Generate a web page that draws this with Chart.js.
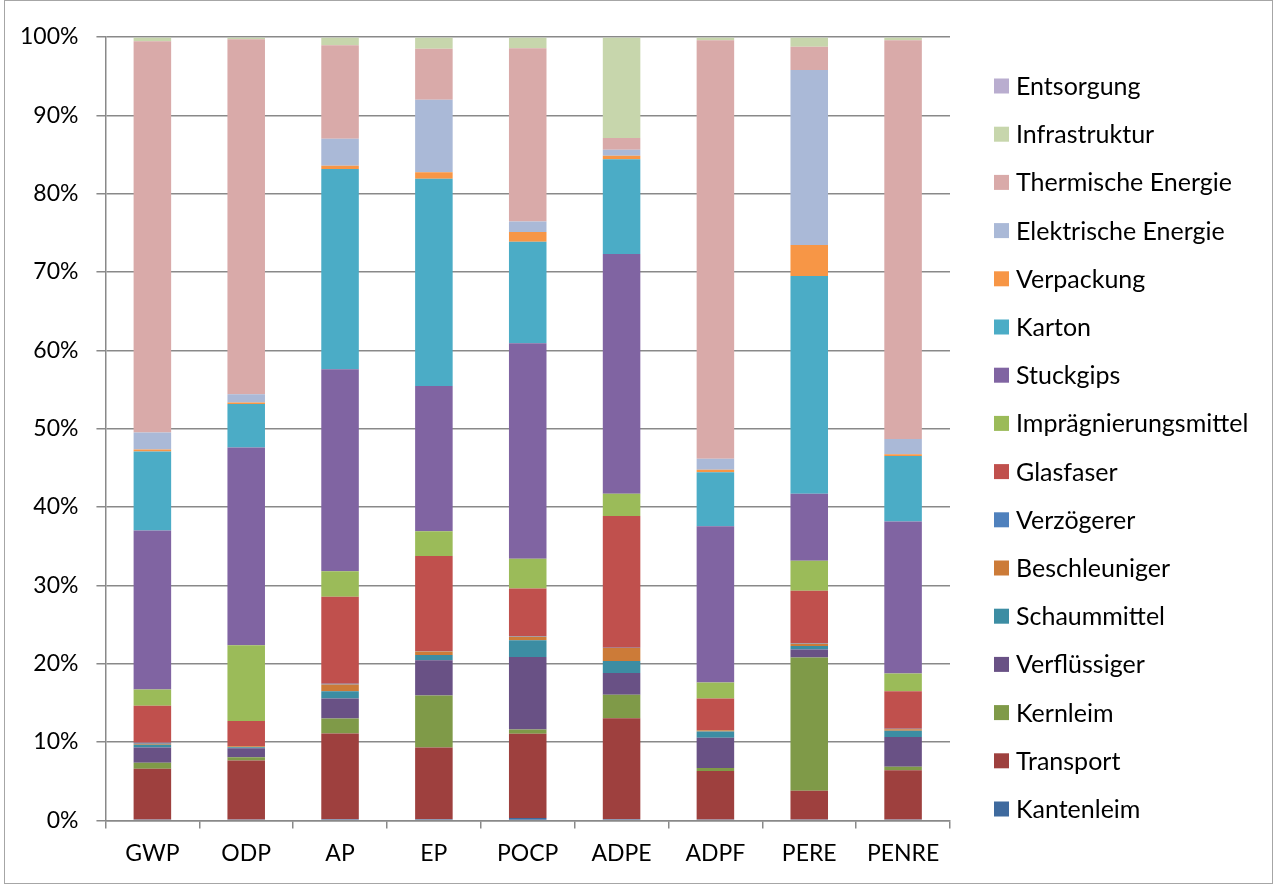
<!DOCTYPE html>
<html lang="de">
<head>
<meta charset="utf-8">
<title>Wirkungskategorien - Anteile</title>
<script src="https://cdn.jsdelivr.net/npm/chart.js@4.4.0/dist/chart.umd.min.js"></script>
<style>
    html, body { margin: 0; padding: 0; background: #ffffff; }
    #anteileChart { display: block; }
</style>
</head>
<body>
<canvas id="anteileChart" width="1277" height="886"></canvas>
<script>
// Kategorien (Wirkungsindikatoren)
const categories = ['GWP', 'ODP', 'AP', 'EP', 'POCP', 'ADPE', 'ADPF', 'PERE', 'PENRE'];

// Anteile in % je Modul (von unten nach oben gestapelt)
const kantenleim     = [0.1, 0.1, 0.15, 0.15, 0.3, 0.15, 0.1, 0.1, 0.1];
const transport      = [6.5, 7.55, 10.95, 9.15, 10.75, 12.9, 6.2, 3.7, 6.3];
const kernleim       = [0.75, 0.4, 1.9, 6.65, 0.55, 3.0, 0.4, 17.0, 0.45];
const verfluessiger  = [1.95, 1.15, 2.55, 4.5, 9.25, 2.75, 3.85, 1.0, 3.8];
const schaummittel   = [0.35, 0.15, 0.95, 0.65, 2.15, 1.55, 0.8, 0.45, 0.8];
const beschleuniger  = [0.15, 0.1, 0.85, 0.45, 0.45, 1.65, 0.15, 0.3, 0.2];
const verzoegerer    = [0.1, 0.0, 0.1, 0.05, 0.05, 0.05, 0.05, 0.05, 0.05];
const glasfaser      = [4.75, 3.25, 11.1, 12.15, 6.1, 16.8, 4.0, 6.7, 4.8];
const impraegnierung = [2.05, 9.65, 3.25, 3.15, 3.8, 2.85, 2.05, 3.85, 2.25];
const stuckgips      = [20.3, 25.25, 25.8, 18.55, 27.5, 30.6, 19.95, 8.55, 19.4];
const karton         = [10.1, 5.55, 25.55, 26.45, 12.95, 12.1, 6.9, 27.8, 8.35];
const verpackung     = [0.25, 0.2, 0.4, 0.85, 1.25, 0.45, 0.3, 3.95, 0.25];
const elektrisch     = [2.15, 1.05, 3.45, 9.25, 1.35, 0.75, 1.4, 22.35, 1.95];
const thermisch      = [49.95, 45.3, 11.95, 6.5, 22.1, 1.5, 53.45, 2.95, 50.9];
const infrastruktur  = [0.5, 0.25, 1.0, 1.45, 1.4, 12.85, 0.35, 1.2, 0.35];
const entsorgung     = [0.05, 0.05, 0.05, 0.05, 0.05, 0.05, 0.05, 0.05, 0.05];

// Y-Achse: Prozent-Ticks
const yTicks = [0, 10, 20, 30, 40, 50, 60, 70, 80, 90, 100];

const FONT = 'Lato, "Open Sans", sans-serif';
const GRID_COLOR = '#898989';

document.addEventListener('DOMContentLoaded', function() {
    initAnteileChart();
});

/**
 * Legende rechts, in umgekehrter Reihenfolge (oberstes Segment zuerst)
 */
const sideLegend = {
    id: 'sideLegend',
    afterDraw(chart) {
        const ctx = chart.ctx;
        const sets = chart.data.datasets;
        ctx.save();
        ctx.font = '25px ' + FONT;
        ctx.textBaseline = 'middle';
        ctx.textAlign = 'left';
        for (let k = 0; k < sets.length; k++) {
            const ds = sets[sets.length - 1 - k];
            const y = 86 + k * 48.2;
            ctx.fillStyle = ds.backgroundColor;
            ctx.fillRect(994, y - 7.5, 15, 15);
            ctx.fillStyle = '#000000';
            ctx.fillText(ds.label, 1016, y + 1);
        }
        // Rahmen um das Diagramm
        ctx.strokeStyle = '#a6a6a6';
        ctx.lineWidth = 1;
        ctx.strokeRect(4.5, 0.5, 1268, 883);
        ctx.restore();
    }
};

function makeSet(label, data, color) {
    return {
        label: label,
        data: data,
        backgroundColor: color,
        borderWidth: 0,
        categoryPercentage: 1.0,
        barPercentage: 0.4
    };
}

function initAnteileChart() {
    const ctx = document.getElementById('anteileChart').getContext('2d');

    const datasets = [
        makeSet('Kantenleim', kantenleim, '#3F6A9E'),
        makeSet('Transport', transport, '#9E403E'),
        makeSet('Kernleim', kernleim, '#7F9A48'),
        makeSet('Verflüssiger', verfluessiger, '#695185'),
        makeSet('Schaummittel', schaummittel, '#3C8DA3'),
        makeSet('Beschleuniger', beschleuniger, '#CC7B38'),
        makeSet('Verzögerer', verzoegerer, '#4F81BD'),
        makeSet('Glasfaser', glasfaser, '#C0504D'),
        makeSet('Imprägnierungsmittel', impraegnierung, '#9BBB59'),
        makeSet('Stuckgips', stuckgips, '#8064A2'),
        makeSet('Karton', karton, '#4BACC6'),
        makeSet('Verpackung', verpackung, '#F79646'),
        makeSet('Elektrische Energie', elektrisch, '#AAB9D7'),
        makeSet('Thermische Energie', thermisch, '#D9AAA9'),
        makeSet('Infrastruktur', infrastruktur, '#C7D6AC'),
        makeSet('Entsorgung', entsorgung, '#B9ADCF')
    ];

    new Chart(ctx, {
        type: 'bar',
        data: {
            labels: categories,
            datasets: datasets
        },
        options: {
            responsive: false,
            animation: false,
            devicePixelRatio: 1,
            layout: {
                padding: { left: 2, right: 327, top: 37, bottom: 8 }
            },
            plugins: {
                legend: { display: false },
                tooltip: { enabled: false }
            },
            scales: {
                x: {
                    stacked: true,
                    grid: {
                        drawOnChartArea: false,
                        drawTicks: true,
                        tickLength: 8,
                        color: GRID_COLOR,
                        lineWidth: 1.5
                    },
                    border: { display: true, color: GRID_COLOR, width: 1.5 },
                    ticks: {
                        color: '#000000',
                        padding: 11,
                        font: { family: FONT, size: 23 }
                    }
                },
                y: {
                    stacked: true,
                    min: 0,
                    max: 100,
                    afterBuildTicks: function(axis) {
                        axis.ticks = yTicks.map(v => ({ value: v }));
                    },
                    grid: {
                        color: GRID_COLOR,
                        lineWidth: 1.5,
                        tickLength: 9
                    },
                    border: { display: true, color: GRID_COLOR, width: 1.5 },
                    ticks: {
                        color: '#000000',
                        padding: 18,
                        font: { family: FONT, size: 23 },
                        callback: function(value) {
                            return value + '%';
                        }
                    }
                }
            }
        },
        plugins: [sideLegend]
    });
}
</script>
</body>
</html>
